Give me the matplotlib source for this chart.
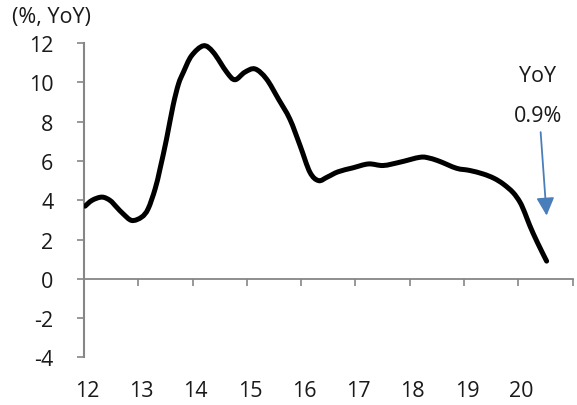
import matplotlib
matplotlib.use("Agg")
import matplotlib.pyplot as plt
from matplotlib.path import Path
from matplotlib.patches import PathPatch
from matplotlib.transforms import ScaledTranslation

# YoY growth (%), fractional year (20xx) vs value
years = [12.02, 12.15, 12.33, 12.48, 12.60, 12.72, 12.88, 13.06, 13.18, 13.31,
         13.40, 13.52, 13.64, 13.74, 13.83, 13.98, 14.20, 14.38, 14.63, 14.78,
         14.96, 15.15, 15.36, 15.58, 15.79, 15.98, 16.16, 16.32, 16.48, 16.68,
         16.95, 17.24, 17.51, 17.82, 18.19, 18.37, 18.56, 18.86, 19.10, 19.35,
         19.55, 19.72, 19.90, 20.03, 20.12, 20.21, 20.35, 20.52]
values = [3.70, 4.00, 4.16, 3.99, 3.65, 3.31, 2.97, 3.14, 3.56, 4.58,
          5.60, 7.12, 8.82, 9.92, 10.52, 11.36, 11.87, 11.54, 10.52, 10.14,
          10.52, 10.69, 10.18, 9.16, 8.14, 6.78, 5.43, 5.00, 5.18, 5.45,
          5.65, 5.85, 5.77, 5.94, 6.19, 6.14, 5.97, 5.63, 5.52, 5.34,
          5.12, 4.83, 4.40, 3.90, 3.35, 2.71, 1.85, 0.9]

x_ticks = list(range(12, 22))
x_labels = [str(t) for t in range(12, 21)]
y_ticks = list(range(-4, 13, 2))

FONT = "Open Sans"
FS = 15.5
TXT = "#1a1a1a"
AXC = "#868686"

plt.rcParams["font.family"] = [FONT, "DejaVu Sans"]


def smooth_path(xs, ys, tension=1 / 6):
    """Cubic Bezier path through every point (Catmull-Rom style smoothing)."""
    pts = list(zip(xs, ys))
    verts = [pts[0]]
    codes = [Path.MOVETO]
    n = len(pts)
    for i in range(n - 1):
        p0 = pts[i - 1] if i > 0 else pts[i]
        p1 = pts[i]
        p2 = pts[i + 1]
        p3 = pts[i + 2] if i + 2 < n else pts[i + 1]
        c1 = (p1[0] + (p2[0] - p0[0]) * tension, p1[1] + (p2[1] - p0[1]) * tension)
        c2 = (p2[0] - (p3[0] - p1[0]) * tension, p2[1] - (p3[1] - p1[1]) * tension)
        verts += [c1, c2, p2]
        codes += [Path.CURVE4] * 3
    return Path(verts, codes)


fig = plt.figure(figsize=(5.77, 4.06), dpi=100)
ax = fig.add_axes([0.1456, 0.1175, 0.9925 - 0.1456, 0.8911 - 0.1175])

line = PathPatch(smooth_path(years, values), facecolor="none", edgecolor="black",
                 lw=3.6, joinstyle="round", capstyle="round", zorder=3)
ax.add_patch(line)

ax.set_xlim(12, 21)
ax.set_ylim(-4, 12)

# y axis
ax.set_yticks(y_ticks)
ax.set_yticklabels([str(t) for t in y_ticks])
ax.tick_params(axis="y", direction="out", length=5, width=1.2, color=AXC,
               pad=17, labelsize=FS, labelcolor=TXT)
ax.spines["left"].set_color(AXC)
ax.spines["left"].set_linewidth(1.5)
for s in ("top", "right", "bottom"):
    ax.spines[s].set_visible(False)

# year labels along the bottom
ax.set_xticks(list(range(12, 21)))
ax.set_xticklabels(x_labels)
ax.tick_params(axis="x", length=0, pad=16, labelsize=FS, labelcolor=TXT)
shift = ScaledTranslation(3 / 100, 0, fig.dpi_scale_trans)
for lbl in ax.get_xticklabels():
    lbl.set_transform(lbl.get_transform() + shift)

# zero line with tick marks
zero_pos = (0 - (-4)) / (12 - (-4))
zax = ax.secondary_xaxis(zero_pos)
zax.set_xticks(x_ticks)
zax.set_xticklabels([])
zax.tick_params(axis="x", direction="out", length=5, width=1.2, color=AXC)
zax.spines["bottom"].set_color(AXC)
zax.spines["bottom"].set_linewidth(1.3)

# unit label
fig.text(12 / 577, 1 - 18 / 406, "(%, YoY)", ha="left", va="center",
         fontsize=FS, color=TXT)

# annotation for the latest reading
ax.text(20.36, 10.35, "YoY", ha="center", va="center", fontsize=FS, color=TXT)
ax.text(20.36, 8.31, f"{values[-1]:.1f}%", ha="center", va="center",
        fontsize=FS, color=TXT)
ax.annotate("", xy=(20.52, 3.22), xytext=(20.41, 7.47),
            arrowprops=dict(arrowstyle="-|>", color="#4a7ebb", lw=1.3,
                            mutation_scale=27, shrinkA=0, shrinkB=0))

fig.savefig("out.png", dpi=100)
